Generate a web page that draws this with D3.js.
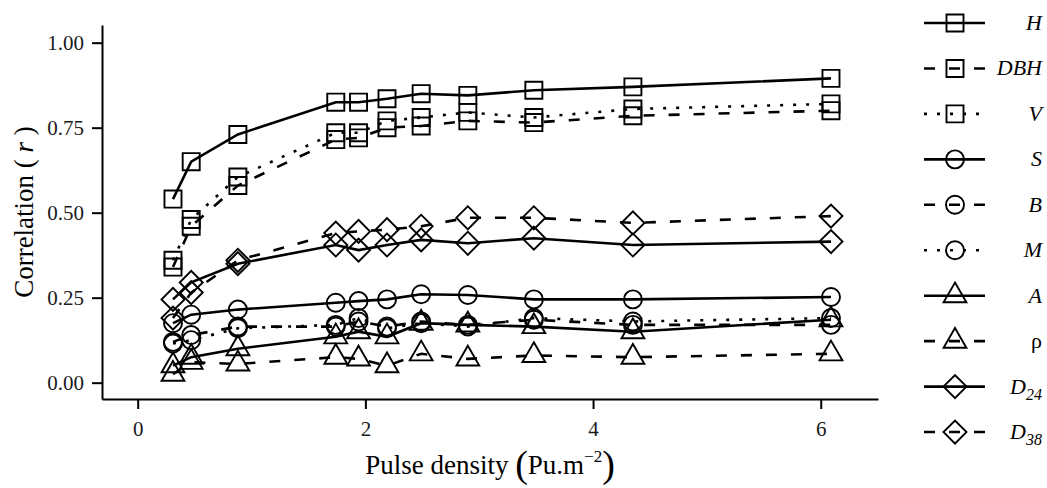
<!DOCTYPE html>
<html>
<head>
<meta charset="utf-8">
<script src="https://cdn.jsdelivr.net/npm/d3@7"></script>
<style>
  body { margin: 0; background: #fff; }
  svg { display: block; font-family: "Liberation Serif", "Times New Roman", serif; }
</style>
</head>
<body>
<svg id="chart" width="1047" height="488"></svg>
<script>
// pulse density (Pu.m-2) of each thinned point cloud
const pulseDensity = [0.31, 0.47, 0.88, 1.74, 1.94, 2.19, 2.49, 2.90, 3.48, 4.35, 6.09];

// correlation (r) per variable
const H   = [0.54, 0.65, 0.73, 0.825, 0.825, 0.835, 0.85, 0.845, 0.86, 0.87, 0.895];
const DBH = [0.34, 0.46, 0.58, 0.715, 0.72, 0.75, 0.755, 0.77, 0.765, 0.785, 0.80];
const V   = [0.36, 0.48, 0.605, 0.735, 0.735, 0.77, 0.78, 0.795, 0.78, 0.805, 0.82];
const S   = [0.175, 0.20, 0.215, 0.235, 0.24, 0.245, 0.26, 0.258, 0.245, 0.245, 0.252];
const B   = [0.12, 0.14, 0.165, 0.165, 0.18, 0.165, 0.18, 0.17, 0.185, 0.17, 0.17];
const M   = [0.115, 0.125, 0.16, 0.17, 0.19, 0.16, 0.175, 0.165, 0.19, 0.18, 0.19];
const A   = [0.05, 0.075, 0.10, 0.135, 0.15, 0.135, 0.175, 0.17, 0.165, 0.15, 0.185];
const rho = [0.025, 0.06, 0.055, 0.075, 0.07, 0.05, 0.085, 0.07, 0.08, 0.075, 0.085];
const D24 = [0.245, 0.295, 0.35, 0.405, 0.39, 0.405, 0.42, 0.41, 0.425, 0.405, 0.415];
const D38 = [0.19, 0.265, 0.36, 0.44, 0.445, 0.45, 0.46, 0.485, 0.485, 0.47, 0.49];

const seriesKeys   = ["H", "DBH", "V", "S", "B", "M", "A", "rho", "D24", "D38"];
const seriesValues = [H, DBH, V, S, B, M, A, rho, D24, D38];
const seriesShapes = ["square", "square", "square", "circle", "circle", "circle", "triangle", "triangle", "diamond", "diamond"];
const seriesLines  = ["solid", "dashed", "dotted", "solid", "dashed", "dotted", "solid", "dashed", "solid", "dashed"];

const xTicks = [0, 2, 4, 6];
const yTicks = [0, 0.25, 0.5, 0.75, 1];

const svg = d3.select("#chart");
const plot = {left: 102, right: 878, top: 25, bottom: 399};

const x = d3.scaleLinear().domain([-0.3136, 6.503]).range([plot.left, plot.right]);
const y = d3.scaleLinear().domain([-0.048, 1.052]).range([plot.bottom, plot.top]);

const dashes = {solid: null, dashed: "11,14", dotted: "3,10"};

const symbols = {
  square: d3.symbol(d3.symbolSquare, 290)(),
  circle: d3.symbol(d3.symbolCircle, 255)(),
  triangle: d3.symbol(d3.symbolTriangle, 225)(),
  diamond: d3.symbol(d3.symbolSquare, 265)()
};

function marker(g, shape, cx, cy) {
  g.append("path")
    .attr("d", symbols[shape])
    .attr("transform", `translate(${cx},${cy})` + (shape === "diamond" ? " rotate(45)" : ""))
    .attr("fill", "none")
    .attr("stroke", "#000")
    .attr("stroke-width", 1.9);
}

// axes
const xAxis = d3.axisBottom(x).tickValues(xTicks).tickFormat(d3.format("d"))
  .tickSize(10).tickSizeOuter(0).tickPadding(12);
const yAxis = d3.axisLeft(y).tickValues(yTicks).tickFormat(d3.format(".2f"))
  .tickSize(10).tickSizeOuter(0).tickPadding(8);

const gx = svg.append("g").attr("transform", `translate(0,${plot.bottom})`).call(xAxis);
const gy = svg.append("g").attr("transform", `translate(${plot.left},0)`).call(yAxis);
[gx, gy].forEach(g => {
  g.selectAll("path, line").attr("stroke", "#000").attr("stroke-width", 2);
  g.selectAll("text").attr("fill", "#1a1a1a").style("font-size", "21px")
    .style("font-family", '"Liberation Serif", serif');
});

// axis titles
svg.append("text")
  .attr("transform", `translate(33,${(plot.top + plot.bottom) / 2}) rotate(-90)`)
  .attr("text-anchor", "middle")
  .style("font-size", "27px")
  .call(t => {
    t.append("tspan").text("Correlation ( ");
    t.append("tspan").style("font-style", "italic").text("r");
    t.append("tspan").text(" )");
  });

svg.append("text")
  .attr("x", (plot.left + plot.right) / 2)
  .attr("y", 474)
  .attr("text-anchor", "middle")
  .style("font-size", "27px")
  .call(t => {
    t.append("tspan").text("Pulse density ");
    t.append("tspan").style("font-size", "38px").attr("dy", 3).text("(");
    t.append("tspan").attr("dy", -3).text("Pu.m");
    t.append("tspan").style("font-size", "17px").attr("dy", -12).text("\u22122");
    t.append("tspan").style("font-size", "38px").attr("dy", 15).text(")");
  });

// lines
const line = d3.line().x((d, i) => x(pulseDensity[i])).y(d => y(d));
seriesValues.forEach((vals, s) => {
  svg.append("path")
    .attr("d", line(vals))
    .attr("fill", "none")
    .attr("stroke", "#000")
    .attr("stroke-width", 2.6)
    .attr("stroke-dasharray", dashes[seriesLines[s]]);
});

// points
const gp = svg.append("g");
seriesValues.forEach((vals, s) => {
  vals.forEach((v, i) => marker(gp, seriesShapes[s], x(pulseDensity[i]), y(v)));
});

// legend
const legend = svg.append("g");
seriesKeys.forEach((k, i) => {
  const ly = 23 + i * 45.45;
  legend.append("line")
    .attr("x1", 924).attr("x2", 985).attr("y1", ly).attr("y2", ly)
    .attr("stroke", "#000").attr("stroke-width", 2.6)
    .attr("stroke-dasharray", dashes[seriesLines[i]]);
  marker(legend, seriesShapes[i], 955, ly);
  const t = legend.append("text")
    .attr("x", 1042).attr("y", ly + 7)
    .attr("text-anchor", "end")
    .style("font-size", "22px");
  if (k === "rho") {
    t.text("\u03c1");
  } else if (k === "D24" || k === "D38") {
    t.append("tspan").style("font-style", "italic").text("D");
    t.append("tspan").style("font-style", "italic").style("font-size", "16px").attr("dy", 6).text(k.slice(1));
  } else {
    t.style("font-style", "italic").text(k);
  }
});
</script>
</body>
</html>
